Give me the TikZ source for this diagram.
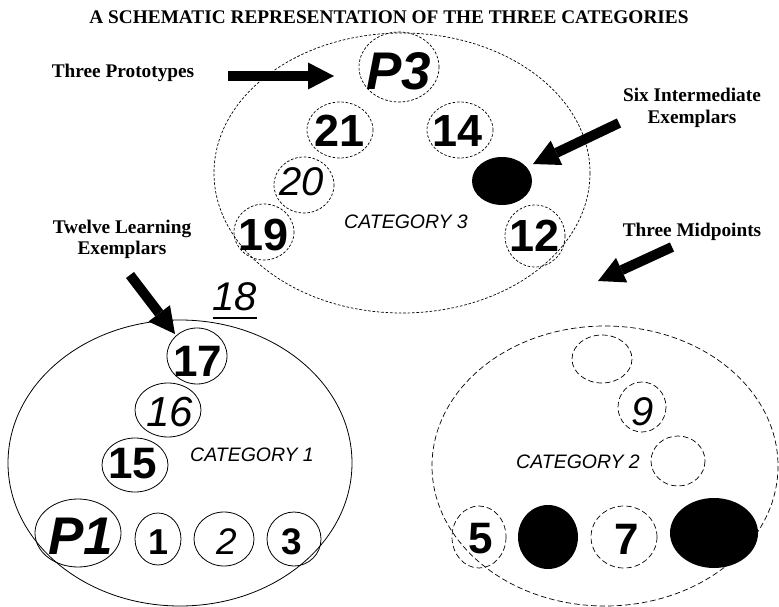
\documentclass[tikz,border=0pt]{standalone}
\usepackage{fontspec}
\setmainfont{Liberation Serif}
\newfontfamily\arialfont{Liberation Sans}
\usetikzlibrary{arrows.meta}
\newcommand\fsz[1]{\fontsize{#1}{#1}\selectfont}
\begin{document}
\begin{tikzpicture}[x=1pt,y=-1pt,
  annot/.style={font=\bfseries\fsz{19.3}, inner sep=0, anchor=base},
  catlabel/.style={font=\arialfont\itshape\fsz{19.5}, inner sep=0},
  bnum/.style={font=\arialfont\bfseries\fsz{45}, inner sep=0},
  inum/.style={font=\arialfont\itshape\fsz{40}, inner sep=0},
  pnum/.style={font=\arialfont\bfseries\itshape\fsz{53}, inner sep=0},
  sbnum/.style={font=\arialfont\bfseries\fsz{36}, inner sep=0},
  sinum/.style={font=\arialfont\itshape\fsz{37}, inner sep=0},
  cthree/.style={draw, line width=0.7pt, dash pattern=on 2.6pt off 1.8pt},
  ctwo/.style={draw, line width=0.7pt, dash pattern=on 5.5pt off 3pt},
  cone/.style={draw, line width=0.8pt},
  blockarrow/.style={line width=10pt, -{Triangle[length=26pt, width=27pt, line width=0pt]}}
]
\useasboundingbox (0,0) rectangle (779,607);

% title
\node[annot, anchor=base] (title) at (389,24) {A SCHEMATIC REPRESENTATION OF THE THREE CATEGORIES};

% ---------- Category 3 ----------
\path[cthree] (402,173) ellipse [x radius=188, y radius=140];
\path[cthree] (399,67) ellipse [x radius=40, y radius=35];
\path[cthree] (340,130) ellipse [x radius=33, y radius=28];
\path[cthree] (460,130) ellipse [x radius=33, y radius=28];
\fill (502,181) ellipse [x radius=30, y radius=24];
\path[cthree] (304,185) ellipse [x radius=30, y radius=28];
\path[cthree] (264,232) ellipse [x radius=30, y radius=28];
\path[cthree] (535,236) ellipse [x radius=30, y radius=31];
\node[pnum] (p3) at (399,71) {P3};
\node[bnum] (n21) at (340,131) {21};
\node[bnum] (n14) at (458,131) {14};
\node[inum] (n20) at (302,182) {20};
\node[bnum] (n19) at (264,235) {19};
\node[bnum] (n12) at (535,236) {12};
\node[catlabel] (cat3) at (406,222) {CATEGORY 3};

% ---------- Category 1 ----------
\path[cone] (180,463) ellipse [x radius=172, y radius=143];
\path[cone] (197,356) ellipse [x radius=30, y radius=28];
\path[cone] (168,410) ellipse [x radius=33, y radius=27];
\path[cone] (135,465) ellipse [x radius=33, y radius=27];
\path[cone] (78,533) ellipse [x radius=43, y radius=34];
\path[cone] (158,539) ellipse [x radius=23, y radius=26];
\path[cone] (224,539) ellipse [x radius=30, y radius=27];
\path[cone] (294,539) ellipse [x radius=27, y radius=27];
\node[bnum, font=\arialfont\bfseries\fsz{44}] (n17) at (198,361) {17};
\node[inum, font=\arialfont\itshape\fsz{42}] (n16) at (170,412) {16};
\node[bnum, font=\arialfont\bfseries\fsz{44}] (n15) at (133,464) {15};
\node[pnum] (p1) at (81,536) {P1};
\node[sbnum] (n1) at (159,542) {1};
\node[sinum] (n2) at (227,542) {2};
\node[sbnum, font=\arialfont\bfseries\fsz{37}] (n3) at (292,542) {3};
\node[catlabel] (cat1) at (252,455) {CATEGORY 1};
\node[inum] (n18) at (235,297) {18};
\draw[line width=1.8pt] ([yshift=-6.5pt]n18.south west) -- ([yshift=-6.5pt]n18.south east);

% ---------- Category 2 ----------
\path[ctwo] (605,466) ellipse [x radius=173, y radius=140];
\path[ctwo] (602,359) ellipse [x radius=30, y radius=24];
\path[ctwo] (642,407) ellipse [x radius=24, y radius=25];
\path[ctwo] (678,461) ellipse [x radius=27, y radius=25];
\path[ctwo] (479,537) ellipse [x radius=27, y radius=31];
\fill (548,537) ellipse [x radius=30, y radius=32];
\path[ctwo] (624,537) ellipse [x radius=33, y radius=31];
\fill (714,533) ellipse [x radius=44, y radius=35];
\node[inum] (n9) at (643,412) {9};
\node[bnum, font=\arialfont\bfseries\fsz{44}] (n5) at (481,539) {5};
\node[bnum, font=\arialfont\bfseries\fsz{44}] (n7) at (627,539) {7};
\node[catlabel] (cat2) at (578,462) {CATEGORY 2};

% ---------- annotations ----------
\node[annot] (lproto) at (123,78) {Three Prototypes};
\node[annot] (ltwelve1) at (122,233) {Twelve Learning};
\node[annot] (ltwelve2) at (122,254) {Exemplars};
\node[annot] (lsix1) at (692,102) {Six Intermediate};
\node[annot] (lsix2) at (692,124) {Exemplars};
\node[annot] (lmid) at (692,236) {Three Midpoints};

\coordinate (aps) at (228,76);
\coordinate (apt) at (334,76);
\coordinate (ats) at (130,275);
\coordinate (att) at (175,334);
\coordinate (ass) at (619,123);
\coordinate (ast) at (533,164);
\coordinate (ams) at (672,247);
\coordinate (amt) at (598,281);
\draw[blockarrow] (aps) -- (apt);
\draw[blockarrow] (ats) -- (att);
\draw[blockarrow] (ass) -- (ast);
\draw[blockarrow] (ams) -- (amt);
\end{tikzpicture}
\end{document}
